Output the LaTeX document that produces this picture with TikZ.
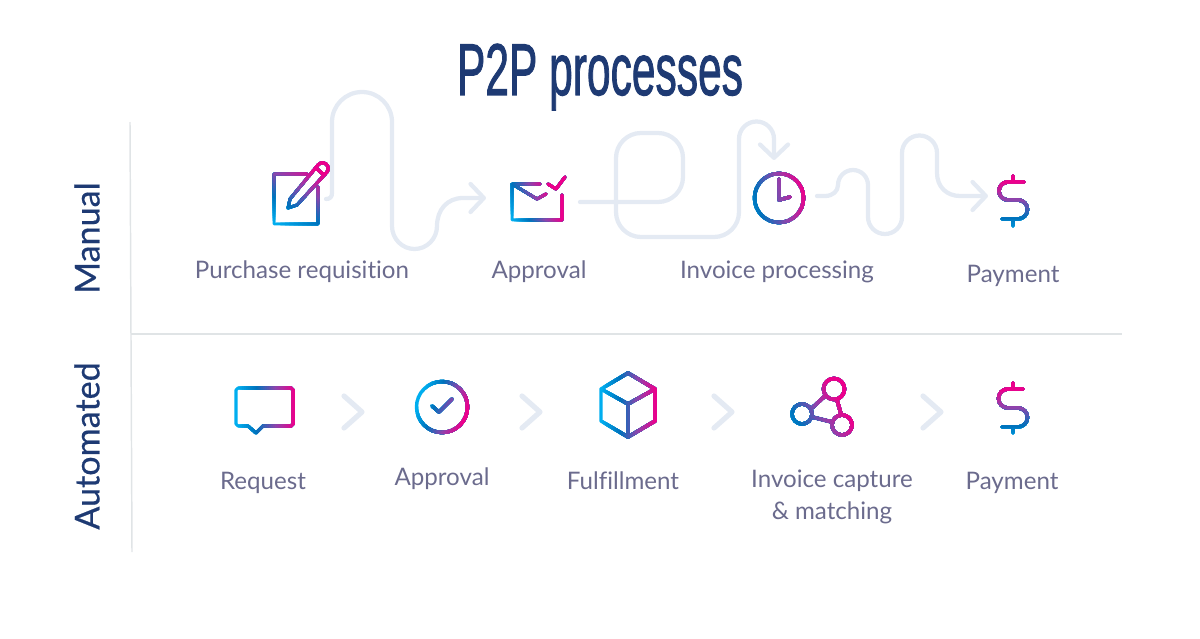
\documentclass[tikz,border=0pt]{standalone}
\usepackage{fontspec}
\usepackage{xcolor}
\setmainfont{Lato}[Ligatures=CommonOff]
\newfontfamily\titlefont{Liberation Sans}[FakeBold=1.6]
\newfontfamily\rowfont{Lato}[FakeBold=0.5]
\usetikzlibrary{arrows.meta, positioning}
\definecolor{gradcyan}{RGB}{0,174,239}
\definecolor{gradblue}{RGB}{0,114,188}
\definecolor{gradpurple}{RGB}{142,68,173}
\definecolor{gradmagenta}{RGB}{236,0,140}
\definecolor{wigglecolor}{RGB}{228,234,243}
\definecolor{rulecolor}{RGB}{224,228,230}
\definecolor{titlecolor}{RGB}{30,58,115}
\definecolor{labelcolor}{RGB}{107,107,141}
\newlength{\iconwidth}
\tikzset{
	iconline/.style={line width=\iconwidth, line cap=round, line join=round},
	wiggle/.style={draw=wigglecolor, line width=3.2pt, line cap=round, line join=round},
	wigglearrow/.style={wiggle, -{Straight Barb[round,length=10pt,width=21pt]}},
	chevronline/.style={draw=wigglecolor, line width=3.9pt, line cap=round, line join=round},
	caption/.style={text=labelcolor, font=\fontsize{18.1}{23.5}\selectfont, align=center, inner sep=0pt, anchor=base},
	rowname/.style={text=titlecolor, font=\fontsize{25.6}{28}\selectfont\rowfont, rotate=90, inner sep=0pt},
}
% strokes a path in gradient colours: centre x, centre y, half length, angle, path
\newcommand{\gradstroke}[5]{
	\draw[iconline, gradcyan] #5;
	\foreach \i in {1,...,30} {
		\pgfmathtruncatemacro{\seg}{min(2,int(\i/10))}
		\pgfmathtruncatemacro{\mixval}{\i==30 ? 100 : 10*(\i-10*\seg)}
		\ifcase\seg
			\colorlet{strokecolor}{gradblue!\mixval!gradcyan}
		\or
			\colorlet{strokecolor}{gradpurple!\mixval!gradblue}
		\else
			\colorlet{strokecolor}{gradmagenta!\mixval!gradpurple}
		\fi
		\begin{scope}
			\clip[rotate around={#4:(#1,#2)}] ({#1-#3+2*#3*\i/30},{#2-#3-60}) rectangle ({#1+#3+60},{#2+#3+60});
			\draw[iconline, strokecolor] #5;
		\end{scope}
	}
}
\begin{document}
\begin{tikzpicture}[x=0.75pt, y=-0.75pt]
\useasboundingbox (0,0) rectangle (1200,639);

\node[text=titlecolor, font=\fontsize{55}{58}\selectfont\titlefont, xscale=0.58, transform shape, inner sep=0pt] (title) at (600,77) {P2P processes};

% Rules
\coordinate (ruletop) at (130,122);
\coordinate (rulebot) at (132,552);
\coordinate (ruleleft) at (131,334);
\coordinate (ruleright) at (1122,334);
\draw[rulecolor, line width=1.1pt] (ruletop) -- (rulebot);
\draw[rulecolor, line width=1.1pt] (ruleleft) -- (ruleright);

\node[rowname] (manual) at (87,238) {Manual};
\node[rowname] (automated) at (87,446) {Automated};

% Wiggly connectors
\draw[wigglearrow] (326,199) .. controls (330,199) and (332,197) .. (332,193) -- (332,122)
	arc[start angle=180, end angle=360, radius=30] -- (392,226)
	arc[start angle=180, end angle=0, x radius=22.5, y radius=23]
	.. controls (437,210) and (447,198) .. (463,198) -- (486,198);
\draw[wigglearrow] (580,202) -- (658,202)
	arc[start angle=90, end angle=0, radius=25] -- (683,158)
	arc[start angle=0, end angle=-90, radius=25] -- (641,133)
	arc[start angle=270, end angle=180, radius=25] -- (616,212)
	arc[start angle=180, end angle=90, radius=25] -- (714,237)
	arc[start angle=90, end angle=0, radius=25] -- (739,139)
	arc[start angle=180, end angle=360, radius=17.5] -- (774,160);
\draw[wigglearrow] (817,196) -- (825,196)
	.. controls (833,196) and (838,191) .. (838,185)
	arc[start angle=180, end angle=360, radius=15] -- (868,217)
	arc[start angle=180, end angle=0, radius=17] -- (902,153)
	arc[start angle=180, end angle=360, radius=17.5] -- (937,173)
	.. controls (937,187) and (947,196) .. (960,196) -- (988,196);

% Chevrons of the lower row
\foreach \cx in {344,522,714,923}
	\draw[chevronline] (\cx,396) -- ++(18,16) -- ++(-18,16);

% Upper row icons
\setlength{\iconwidth}{2.2pt}
\gradstroke{290.5}{195.4}{33}{60}{(307,174) -- (274,174) -- (274,224) -- (318,224) -- (318,187)
	(288,208) -- (290,199) -- (318,165) arc[start angle=218, end angle=398, radius=5.7] -- (297,205) -- cycle
	(316,168) -- (324,175)}
\gradstroke{532}{210}{22.5}{25}{(540,184) -- (512,184) -- (512,220) -- (562,220) -- (562,195)
	(512,184) -- (537,199) -- (546,194) (548,184) -- (556,189) -- (565,177)}
\setlength{\iconwidth}{2.6pt}
\gradstroke{767}{195}{36}{15}{(779,198) circle[radius=24.5] (779,179) -- (779,200) -- (790,197)}
\gradstroke{1013}{209}{27}{90}{(1024,182) -- (1008,182) arc[start angle=270, end angle=90, radius=9] -- (1018,200)
	arc[start angle=270, end angle=450, radius=9.5] -- (1002,219) (1013,176) -- (1013,182) (1013,219) -- (1013,226)}

\node[caption] (purchase) at (302,278) {Purchase requisition};
\node[caption] (approvalm) at (539,278) {Approval};
\node[caption] (invoicem) at (777,278) {Invoice processing};
\node[caption] (paymentm) at (1013,282) {Payment};

% Lower row icons
\setlength{\iconwidth}{2.3pt}
\gradstroke{265}{408}{28.5}{0}{(238,388) -- (291,388) -- (293,390) -- (293,424) -- (291,426) -- (263,426) -- (256,433) -- (248,426) -- (238,426) -- (236,424) -- (236,390) -- cycle}
\setlength{\iconwidth}{2.6pt}
\gradstroke{442}{407}{24}{-20}{(442,407) circle[radius=25.5] (432,406) -- (439,412) -- (452,399)}
\gradstroke{628}{405}{27}{0}{(628,373) -- (655,389) -- (655,421) -- (628,437) -- (601,421) -- (601,389) -- cycle
	(601,389) -- (628,404) -- (655,389) (628,404) -- (628,437)}
\gradstroke{803}{408.5}{35}{30}{(802,414) circle[radius=10] (834,389) circle[radius=10.5] (842,425) circle[radius=10]
	(812,408) -- (825,396) (837,400) -- (841,414) (812,417) -- (832,422)}
\gradstroke{1013}{417}{27}{90}{(1023,389) -- (1008,389) arc[start angle=270, end angle=90, radius=9.5] -- (1018,408)
	arc[start angle=270, end angle=450, radius=9.5] -- (1002,427) (1013,383) -- (1013,389) (1013,427) -- (1013,433)}

\node[caption] (request) at (263,489) {Request};
\node[caption] (approvala) at (442,485) {Approval};
\node[caption] (fulfillment) at (623,489) {Fulfillment};
\node[caption, anchor=center] (invoicea) at (832,497) {Invoice capture\\\& matching};
\node[caption] (paymenta) at (1012,489) {Payment};
\end{tikzpicture}
\end{document}
